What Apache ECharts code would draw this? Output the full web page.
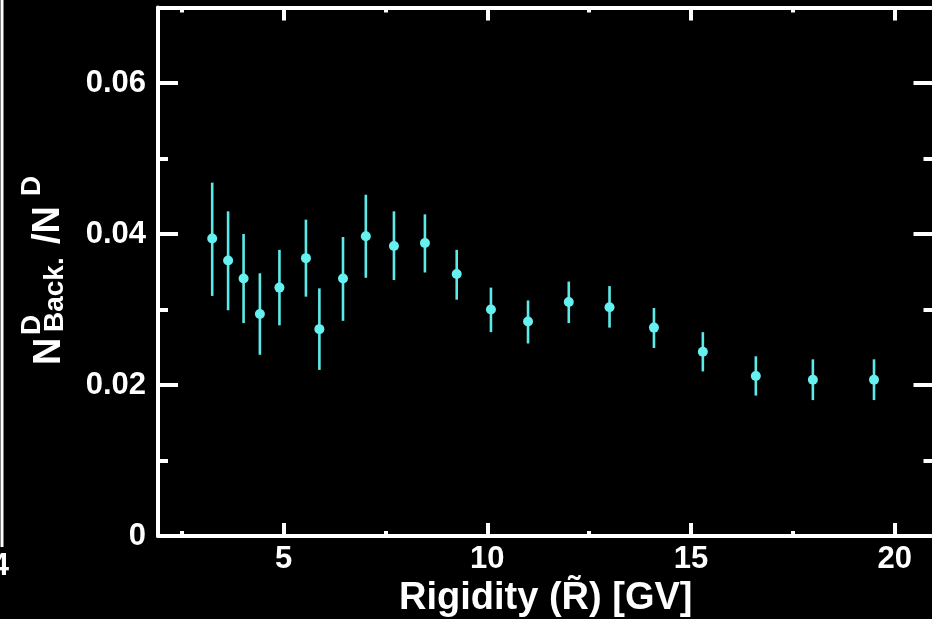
<!DOCTYPE html>
<html><head><meta charset="utf-8">
<script src="https://cdn.jsdelivr.net/npm/echarts@6/dist/echarts.min.js"></script>
<style>html,body{margin:0;padding:0;background:#000}#c{width:932px;height:619px}</style>
</head><body><div id="c"></div>
<script>
// Data
const rigidity = [3.25, 3.64, 4.02, 4.42, 4.90, 5.55, 5.88, 6.46, 7.02, 7.71, 8.47, 9.25, 10.09, 11.0, 12.0, 13.0, 14.09, 15.29, 16.59, 17.99, 19.49];
const ratio    = [0.0394, 0.0365, 0.0341, 0.0294, 0.0329, 0.0368, 0.0274, 0.0341, 0.0397, 0.0384, 0.0388, 0.0347, 0.0300, 0.0284, 0.0310, 0.0303, 0.0276, 0.0244, 0.0212, 0.0207, 0.0207];
const errLow   = [0.0318, 0.0299, 0.0282, 0.0240, 0.0279, 0.0317, 0.0220, 0.0285, 0.0342, 0.0339, 0.0349, 0.0313, 0.0270, 0.0255, 0.0282, 0.0276, 0.0249, 0.0218, 0.0186, 0.0180, 0.0180];
const errHigh  = [0.0468, 0.0430, 0.0400, 0.0348, 0.0379, 0.0419, 0.0328, 0.0396, 0.0452, 0.0430, 0.0426, 0.0379, 0.0329, 0.0312, 0.0337, 0.0331, 0.0302, 0.0270, 0.0238, 0.0234, 0.0234];
const xMajorTicks = [5, 10, 15, 20];
const xMinorTicks = [2.5, 7.5, 12.5, 17.5];
const yMajorTicks = [0, 0.02, 0.04, 0.06];
const yMinorTicks = [0.01, 0.03, 0.05];
const xTitle = 'Rigidity (R\u0303) [GV]';

const FONT = "'Liberation Sans', Arial, sans-serif";
const WHITE = '#ffffff';
const CYAN = '#5ee9e9';
const X_MIN = 1.92, X_MAX = 20.95, Y_MIN = 0, Y_MAX = 0.07;

function xAx(position, ticks, len, showLine, labels) {
  return {
    type: 'value', position: position, min: X_MIN, max: X_MAX,
    axisLine: { show: showLine, onZero: false, lineStyle: { color: WHITE, width: 4 } },
    axisTick: { show: true, inside: true, length: len, customValues: ticks, lineStyle: { color: WHITE, width: 4 } },
    axisLabel: labels ? { show: true, customValues: ticks, color: WHITE, fontSize: 31, fontWeight: 'bold', fontFamily: FONT, margin: 8 } : { show: false },
    splitLine: { show: false }, minorTick: { show: false }
  };
}
function yAx(position, ticks, len, showLine, labels) {
  return {
    type: 'value', position: position, min: Y_MIN, max: Y_MAX,
    axisLine: { show: showLine, onZero: false, lineStyle: { color: WHITE, width: 4 } },
    axisTick: { show: true, inside: true, length: len, customValues: ticks, lineStyle: { color: WHITE, width: 4 } },
    axisLabel: labels ? { show: true, customValues: ticks, color: WHITE, fontSize: 31, fontWeight: 'bold', fontFamily: FONT, margin: 12 } : { show: false },
    splitLine: { show: false }, minorTick: { show: false }
  };
}

const xAxes = [
  xAx('bottom', xMajorTicks, 13, true, true),
  xAx('bottom', xMinorTicks, 5, false, false),
  xAx('top', xMajorTicks, 13, true, false),
  xAx('top', xMinorTicks, 5, false, false)
];
xAxes[0].name = xTitle;
xAxes[0].nameLocation = 'middle';
xAxes[0].nameGap = 40;
xAxes[0].nameTextStyle = { color: WHITE, fontSize: 38, fontWeight: 'bold', fontFamily: FONT };

const yAxes = [
  yAx('left', yMajorTicks, 20, true, true),
  yAx('left', yMinorTicks, 10, false, false),
  yAx('right', yMajorTicks, 20, true, false),
  yAx('right', yMinorTicks, 10, false, false)
];

const pts = rigidity.map((x, i) => [x, ratio[i]]);
const bars = rigidity.map((x, i) => [x, errLow[i], errHigh[i]]);

function t(text, x, y, size) {
  return { type: 'text', style: { text: text, x: x, y: y, fill: WHITE, font: 'bold ' + size + 'px ' + FONT,
    textAlign: 'left', textVerticalAlign: 'middle', align: 'left', verticalAlign: 'middle' } };
}

const chart = echarts.init(document.getElementById('c'), null, { renderer: 'canvas' });
chart.setOption({
  backgroundColor: '#000000',
  animation: false,
  grid: { left: 158, top: 7.5, width: 775.5, height: 528.5, containLabel: false, outerBoundsMode: 'none' },
  xAxis: xAxes,
  yAxis: yAxes,
  graphic: [
    { type: 'line', shape: { x1: 2, y1: 0, x2: 2, y2: 547 }, style: { stroke: WHITE, lineWidth: 3 } },
    { type: 'text', style: { text: '4', x: 9, y: 566, fill: WHITE, font: 'bold 31px ' + FONT, textAlign: 'right', textVerticalAlign: 'middle', align: 'right', verticalAlign: 'middle' } },
    { type: 'group', x: 63, y: 365, rotation: Math.PI / 2, children: [
      t('N', 0, -13.5, 38),
      t('D', 30, -31, 28),
      t('Back.', 33, -8, 28),
      t('/N', 121, -14, 38),
      t('D', 169, -31, 28)
    ] }
  ],
  series: [
    {
      type: 'custom', xAxisIndex: 0, yAxisIndex: 0, z: 2,
      encode: { x: 0, y: [1, 2] },
      data: bars,
      renderItem: function (params, api) {
        const x = api.value(0);
        const p1 = api.coord([x, api.value(1)]);
        const p2 = api.coord([x, api.value(2)]);
        return { type: 'line', shape: { x1: p1[0], y1: p1[1], x2: p2[0], y2: p2[1] }, style: { stroke: CYAN, lineWidth: 2.6 } };
      }
    },
    {
      type: 'scatter', xAxisIndex: 0, yAxisIndex: 0, z: 3,
      data: pts, symbol: 'circle', symbolSize: 10,
      itemStyle: { color: '#66f0f0', opacity: 1 }
    }
  ]
});
</script>
</body></html>
